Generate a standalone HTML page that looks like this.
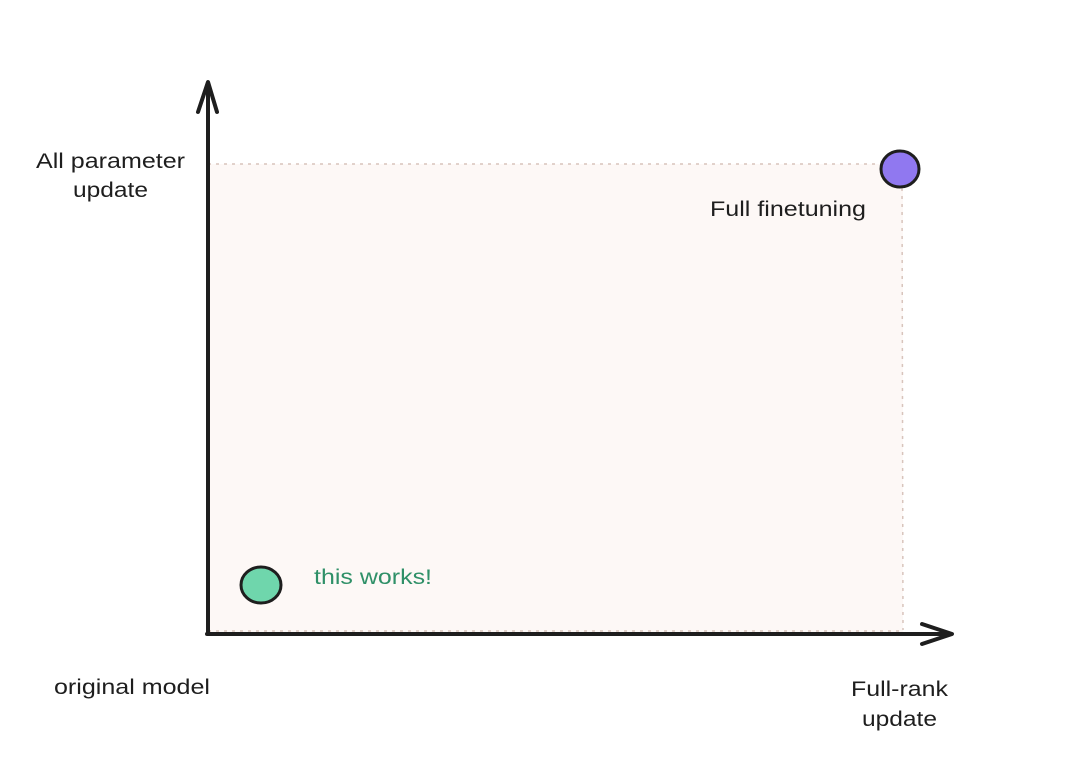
<!DOCTYPE html>
<html><head><meta charset="utf-8"><style>
html,body{margin:0;padding:0;background:#fff;}
svg{display:block}
text{font-family:"Liberation Sans",sans-serif;font-size:21px;fill:#1e1e1e}
</style></head><body>
<svg width="1074" height="778" viewBox="0 0 1074 778" xmlns="http://www.w3.org/2000/svg">
<rect x="208" y="164" width="695" height="468" fill="#fdf8f6"/>
<path d="M208 164 L900 164 M902 180 L903 630 M208 631 L903 631" stroke="#d8c4bc" stroke-width="1.5" stroke-dasharray="3 5" fill="none"/>
<path d="M208 634 L208 84" stroke="#1e1e1e" stroke-width="4" fill="none" stroke-linecap="round"/>
<path d="M198 112 L208 82 L217 112" stroke="#1e1e1e" stroke-width="4" fill="none" stroke-linecap="round" stroke-linejoin="round"/>
<path d="M207 634 L950 634" stroke="#1e1e1e" stroke-width="4" fill="none" stroke-linecap="round"/>
<path d="M922 624 L952 634 L922 644" stroke="#1e1e1e" stroke-width="4" fill="none" stroke-linecap="round" stroke-linejoin="round"/>
<ellipse cx="900" cy="169" rx="19" ry="18" fill="#9078f0" stroke="#1e1e1e" stroke-width="3"/>
<ellipse cx="261" cy="585" rx="20" ry="18" fill="#6fd6ac" stroke="#1e1e1e" stroke-width="3"/>
<text x="36" y="168" textLength="149" lengthAdjust="spacingAndGlyphs">All parameter</text>
<text x="73" y="197" textLength="75" lengthAdjust="spacingAndGlyphs">update</text>
<text x="710" y="216" textLength="156" lengthAdjust="spacingAndGlyphs">Full finetuning</text>
<text x="314" y="584" textLength="118" lengthAdjust="spacingAndGlyphs" style="fill:#2f9068">this works!</text>
<text x="54" y="694" textLength="156" lengthAdjust="spacingAndGlyphs">original model</text>
<text x="851" y="696" textLength="97" lengthAdjust="spacingAndGlyphs">Full-rank</text>
<text x="862" y="726" textLength="75" lengthAdjust="spacingAndGlyphs">update</text>
</svg>
</body></html>
